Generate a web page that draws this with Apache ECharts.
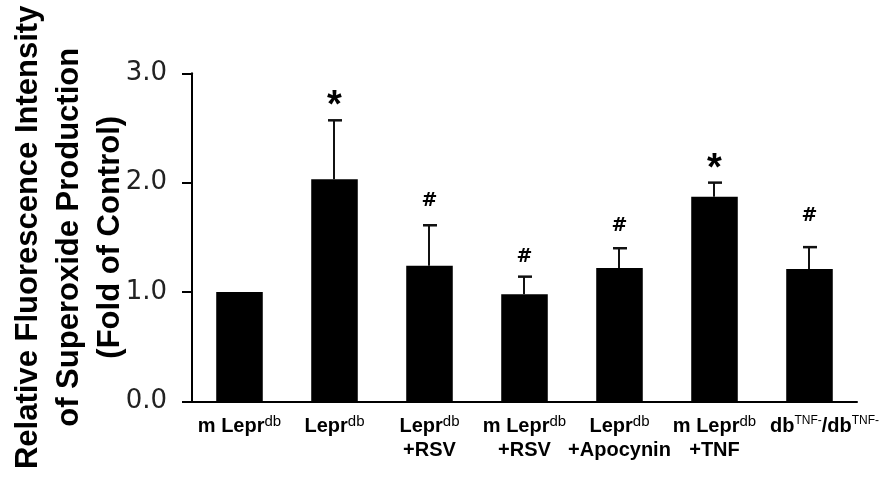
<!DOCTYPE html>
<html><head><meta charset="utf-8">
<script src="https://cdn.jsdelivr.net/npm/echarts@6/dist/echarts.min.js"></script>
<style>html,body{margin:0;padding:0;background:#fff}#c{width:885px;height:478px}</style>
</head><body><div id="c"></div>
<script>
// ---- data ----
const categories = ['m Lepr^{db}', 'Lepr^{db}', 'Lepr^{db}\n+RSV', 'm Lepr^{db}\n+RSV', 'Lepr^{db}\n+Apocynin', 'm Lepr^{db}\n+TNF', 'db^{TNF-}/db^{TNF-}'];
const means = [1.00, 2.03, 1.24, 0.98, 1.22, 1.87, 1.21];
const errors = [0, 0.54, 0.37, 0.16, 0.18, 0.13, 0.20];
const marks = ['', '*', '#', '#', '#', '*', '#'];
const markY = [null, 2.76, 1.83, 1.32, 1.60, 2.18, 1.69];
const yTicks = [0, 1, 2, 3];
const yTitle = ['Relative Fluorescence Intensity', 'of Superoxide Production', '(Fold of Control)'];

function fmtCat(s) {
  return s.replace(/\^\{([^}]*)\}/g, (m, t) => (t === 'db' ? '{s|' : '{t|') + t + '}');
}

const xData = categories.map((c, i) => i === categories.length - 1
  ? { value: c, textStyle: { padding: [0, 0, 0, 30] } }
  : c);

const chart = echarts.init(document.getElementById('c'));
chart.setOption({
  animation: false,
  backgroundColor: '#fff',
  grid: { left: 192, right: 28, top: 73.3, bottom: 76.7, containLabel: false, outerBoundsMode: 'none' },
  xAxis: {
    type: 'category',
    data: xData,
    axisLine: { lineStyle: { color: '#000', width: 2 } },
    axisTick: { show: false },
    axisLabel: {
      interval: 0,
      margin: 13,
      color: '#000',
      fontFamily: 'Liberation Sans, Arial, sans-serif',
      fontWeight: 'bold',
      fontSize: 20,
      lineHeight: 24,
      formatter: v => fmtCat(v),
      rich: {
        s: { fontSize: 15, fontWeight: 'normal', fontFamily: 'Liberation Sans, Arial, sans-serif', color: '#000', verticalAlign: 'top', lineHeight: 15 },
        t: { fontSize: 12, fontWeight: 'normal', fontFamily: 'Liberation Sans, Arial, sans-serif', color: '#000', verticalAlign: 'top', lineHeight: 13 }
      }
    }
  },
  yAxis: {
    type: 'value',
    min: yTicks[0], max: yTicks[yTicks.length - 1], interval: 1,
    name: yTitle.join('\n'),
    nameLocation: 'middle',
    nameRotate: 90,
    nameGap: 61,
    nameMoveOverlap: false,
    nameTextStyle: { fontFamily: 'Liberation Sans, Arial, sans-serif', fontWeight: 'bold', fontSize: 31, lineHeight: 41, color: '#000', align: 'center' },
    axisLine: { show: true, lineStyle: { color: '#000', width: 2 } },
    axisTick: { show: true, length: 10, lineStyle: { color: '#000', width: 2 } },
    splitLine: { show: false },
    axisLabel: { margin: 25, color: '#222', fontFamily: 'DejaVu Sans, Verdana, sans-serif', fontSize: 26, formatter: v => v.toFixed(1) }
  },
  series: [
    {
      type: 'bar',
      data: means,
      barWidth: '49%',
      itemStyle: { color: '#000' },
      z: 2
    },
    {
      type: 'custom',
      data: means.map((m, i) => [i, m, errors[i]]),
      z: 3,
      renderItem: (params, api) => {
        const i = api.value(0), m = api.value(1), e = api.value(2);
        if (!e) return { type: 'group', children: [] };
        const base = api.coord([i, m]);
        const top = api.coord([i, m + e]);
        const x = Math.round(base[0]) - 1;
        return {
          type: 'group',
          children: [
            { type: 'line', shape: { x1: x, y1: base[1], x2: x, y2: top[1] }, style: { stroke: '#111', lineWidth: 2 } },
            { type: 'line', shape: { x1: x - 6, y1: top[1], x2: x + 8, y2: top[1] }, style: { stroke: '#111', lineWidth: 2.5 } }
          ]
        };
      }
    },
    {
      type: 'custom',
      data: markY.map((y, i) => [i, y]),
      z: 4,
      renderItem: (params, api) => {
        const i = params.dataIndex;
        if (!marks[i]) return { type: 'group', children: [] };
        const p = api.coord([api.value(0), api.value(1)]);
        const star = marks[i] === '*';
        return {
          type: 'text',
          x: p[0], y: p[1] + (star ? 7 : 0),
          style: {
            text: marks[i],
            fill: '#000',
            font: star ? 'bold 38px "Liberation Sans", Arial, sans-serif' : 'bold 19px "DejaVu Sans", Verdana, sans-serif',
            align: 'center',
            verticalAlign: 'middle'
          }
        };
      }
    }
  ]
});
</script>
</body></html>
